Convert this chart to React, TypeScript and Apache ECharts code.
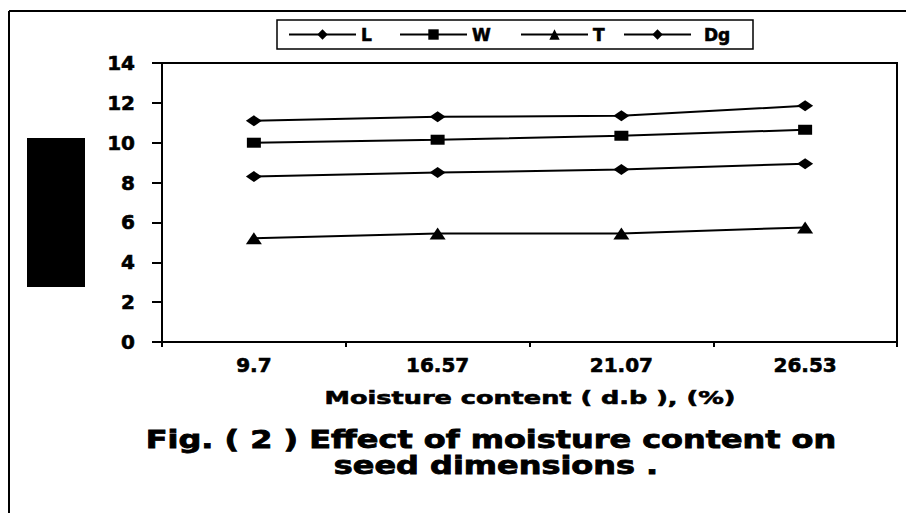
import React, { useEffect, useRef } from "react";
import * as echarts from "echarts";

const categories = ["9.7", "16.57", "21.07", "26.53"];
const seriesNames = ["L", "W", "T", "Dg"];
const valuesL = [11.1, 11.3, 11.35, 11.85];
const valuesW = [10.0, 10.15, 10.35, 10.65];
const valuesT = [5.2, 5.45, 5.45, 5.75];
const valuesDg = [8.3, 8.5, 8.65, 8.95];
const yMin = 0;
const yMax = 14;
const yStep = 2;
const axisTitle = "Moisture content ( d.b ), (%)";
const captionLine1 = "Fig. ( 2 ) Effect of moisture content on";
const captionLine2 = "seed dimensions .";

const FONT = "DejaVu Sans";

export default function App() {
  const ref = useRef<HTMLDivElement>(null);

  useEffect(() => {
    if (!ref.current) return;
    const chart = echarts.init(ref.current, undefined, { renderer: "svg" });

    const lineSeries = (
      name: string,
      data: number[],
      symbol: string,
      size: number[]
    ) => ({
      name,
      type: "line",
      data,
      symbol,
      symbolSize: size,
      showSymbol: true,
      lineStyle: { color: "#000", width: 2 },
      itemStyle: { color: "#000", borderWidth: 0 },
      emphasis: { disabled: true },
    });

    const richBase = {
      fontFamily: FONT,
      fontWeight: "bold",
      fontSize: 17,
      color: "#000",
      lineHeight: 19,
      textBorderColor: "#000",
      textBorderWidth: 0.6,
    };

    const heavyLabel = {
      color: "#000",
      fontFamily: FONT,
      fontWeight: "bold",
      fontSize: 20,
      textBorderColor: "#000",
      textBorderWidth: 0.6,
    };

    chart.setOption({
      animation: false,
      backgroundColor: "#fff",
      grid: {
        left: 162,
        right: 9,
        top: 63,
        bottom: 171,
        show: true,
        borderColor: "#000",
        borderWidth: 2,
        containLabel: false,
      },
      legend: {
        left: 277,
        top: 20,
        padding: [5, 14, 5, 11],
        itemWidth: 67,
        itemHeight: 13,
        itemGap: 10,
        borderColor: "#000",
        borderWidth: 1.5,
        selectedMode: false,
        data: seriesNames,
        formatter: (name: string) => `{${name}|${name}}`,
        textStyle: {
          ...richBase,
          rich: {
            L: { ...richBase, width: 28 },
            W: { ...richBase, width: 38 },
            T: { ...richBase, width: 20 },
            Dg: { ...richBase, width: 35, padding: [0, 0, 0, 8] },
          },
        },
      },
      xAxis: {
        type: "category",
        data: categories,
        boundaryGap: true,
        axisLine: { show: true, lineStyle: { color: "#000", width: 2 } },
        axisTick: {
          show: true,
          length: 5,
          interval: 0,
          alignWithLabel: false,
          lineStyle: { color: "#000", width: 2 },
        },
        axisLabel: { ...heavyLabel, margin: 13, interval: 0 },
        splitLine: { show: false },
      },
      yAxis: {
        type: "value",
        min: yMin,
        max: yMax,
        interval: yStep,
        axisLine: { show: true, lineStyle: { color: "#000", width: 2 } },
        axisTick: { show: true, length: 10, lineStyle: { color: "#000", width: 2 } },
        axisLabel: { ...heavyLabel, margin: 27 },
        splitLine: { show: false },
      },
      series: [
        lineSeries(seriesNames[0], valuesL, "diamond", [16, 11]),
        lineSeries(seriesNames[1], valuesW, "rect", [14, 10]),
        lineSeries(seriesNames[2], valuesT, "triangle", [16, 12]),
        lineSeries(seriesNames[3], valuesDg, "diamond", [16, 11]),
      ],
      graphic: [
        {
          type: "line",
          shape: { x1: 9, y1: 11, x2: 906, y2: 11 },
          style: { stroke: "#000", lineWidth: 2 },
          silent: true,
        },
        {
          type: "line",
          shape: { x1: 9, y1: 11, x2: 9, y2: 513 },
          style: { stroke: "#000", lineWidth: 2 },
          silent: true,
        },
        {
          type: "rect",
          shape: { x: 27, y: 138, width: 58, height: 149 },
          style: { fill: "#000" },
          silent: true,
        },
        {
          type: "text",
          x: 530,
          y: 397,
          scaleX: 1.42,
          style: {
            text: axisTitle,
            x: 0,
            y: 0,
            textAlign: "center",
            textVerticalAlign: "middle",
            font: `bold 18px "${FONT}"`,
            fill: "#000",
            stroke: "#000",
            lineWidth: 0.6,
          },
          silent: true,
        },
        {
          type: "text",
          x: 491,
          y: 440,
          scaleX: 1.33,
          style: {
            text: captionLine1,
            x: 0,
            y: 0,
            textAlign: "center",
            textVerticalAlign: "middle",
            font: `bold 24px "${FONT}"`,
            fill: "#000",
            stroke: "#000",
            lineWidth: 0.8,
          },
          silent: true,
        },
        {
          type: "text",
          x: 496,
          y: 466,
          scaleX: 1.33,
          style: {
            text: captionLine2,
            x: 0,
            y: 0,
            textAlign: "center",
            textVerticalAlign: "middle",
            font: `bold 24px "${FONT}"`,
            fill: "#000",
            stroke: "#000",
            lineWidth: 0.8,
          },
          silent: true,
        },
      ],
    });

    return () => {
      chart.dispose();
    };
  }, []);

  return (
    <div
      ref={ref}
      style={{ position: "fixed", left: 0, top: 0, width: 906, height: 513 }}
    />
  );
}
